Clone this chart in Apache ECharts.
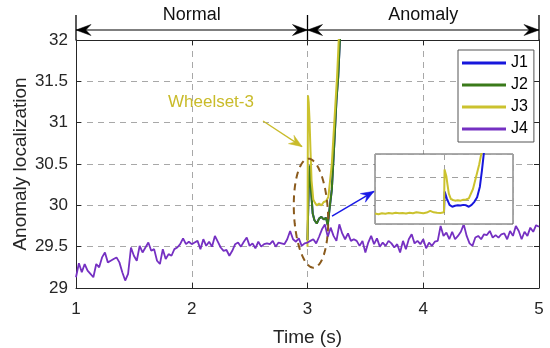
<!DOCTYPE html>
<html><head><meta charset="utf-8">
<script src="https://cdn.jsdelivr.net/npm/echarts@6/dist/echarts.min.js"></script>
<style>html,body{margin:0;padding:0;background:#fff}#c{width:550px;height:348px}</style>
</head><body><div id="c"></div>
<script>
// ---------- data ----------
const seriesNames = ['J1', 'J2', 'J3', 'J4'];
const xTickValues = [1, 2, 3, 4, 5];
const yTickValues = [29, 29.5, 30, 30.5, 31, 31.5, 32];
// J4: sampled every 0.025 s from 1.0 s to 5.0 s
const j4Start = 1.0, j4Step = 0.025;
const j4Values = [
 29.13,29.30,29.19,29.29,29.21,29.17,29.13,29.29,29.25,29.37,
 29.43,29.31,29.33,29.35,29.37,29.31,29.19,29.09,29.17,29.49,
 29.39,29.33,29.51,29.43,29.49,29.55,29.45,29.47,29.33,29.29,
 29.47,29.35,29.41,29.39,29.47,29.49,29.53,29.60,29.53,29.56,
 29.53,29.55,29.57,29.47,29.59,29.51,29.56,29.50,29.63,29.56,
 29.49,29.45,29.46,29.39,29.45,29.53,29.55,29.50,29.56,29.61,
 29.51,29.54,29.48,29.56,29.50,29.53,29.54,29.53,29.57,29.50,
 29.55,29.54,29.53,29.59,29.69,29.59,29.56,29.60,29.51,29.54,
 29.55,29.57,29.59,29.54,29.62,29.71,29.77,29.62,29.73,29.63,
 29.57,29.77,29.66,29.59,29.66,29.57,29.59,29.57,29.51,29.57,
 29.43,29.55,29.63,29.53,29.60,29.50,29.55,29.51,29.57,29.54,
 29.49,29.53,29.43,29.57,29.47,29.59,29.65,29.54,29.57,29.53,
 29.59,29.48,29.55,29.51,29.56,29.57,29.75,29.63,29.67,29.59,
 29.68,29.59,29.63,29.68,29.77,29.63,29.54,29.51,29.61,29.63,
 29.59,29.65,29.64,29.69,29.61,29.64,29.61,29.65,29.66,29.59,
 29.69,29.63,29.75,29.69,29.59,29.68,29.63,29.73,29.68,29.76,
 29.74
];
// J2 (dark green) after the anomaly onset
const j2Time   = [3.0, 3.01, 3.02, 3.03, 3.045, 3.06, 3.08, 3.10, 3.12, 3.14, 3.16, 3.175, 3.19, 3.21, 3.23, 3.25, 3.265, 3.28, 3.30];
const j2Values = [29.58, 30.2, 30.48, 30.2, 29.9, 29.82, 29.78, 29.84, 29.86, 29.83, 29.85, 29.76, 29.95, 30.19, 30.71, 31.27, 31.55, 32.0, 32.5];
// J1 in the main plot lies underneath J2
const j1Time   = j2Time;
const j1Values = j2Values;
// J3 (yellow) after the anomaly onset
const j3Time   = [3.0, 3.004, 3.01, 3.017, 3.025, 3.035, 3.05, 3.065, 3.08, 3.10, 3.12, 3.14, 3.16, 3.18, 3.21, 3.24, 3.255, 3.27, 3.29];
const j3Values = [29.5, 31.33, 31.25, 31.05, 30.7, 30.3, 30.07, 30.03, 30.0, 30.02, 30.0, 30.04, 30.05, 30.1, 30.5, 31.2, 31.55, 32.0, 32.6];
// Inset: J3 before onset (2.5 – 2.975 s, every 0.025 s)
const j3PreTime   = [2.5,2.525,2.55,2.575,2.6,2.625,2.65,2.675,2.7,2.725,2.75,2.775,2.8,2.825,2.85,2.875,2.9,2.925,2.95,2.975];
const j3PreValues = [29.45,29.42,29.46,29.44,29.47,29.45,29.48,29.46,29.47,29.45,29.48,29.46,29.5,29.48,29.46,29.49,29.56,29.5,29.48,29.47];
// Inset: J1 (blue)
const j1InsetTime   = [3.0, 3.005, 3.02, 3.04, 3.06, 3.08, 3.10, 3.12, 3.14, 3.16, 3.18, 3.20, 3.22, 3.24, 3.26, 3.275, 3.29, 3.30];
const j1InsetValues = [29.47, 30.39, 30.1, 29.82, 29.74, 29.78, 29.80, 29.79, 29.82, 29.80, 29.74, 29.82, 29.95, 30.15, 30.6, 31.3, 32.1, 32.6];

// ---------- build ----------
const colors = {J1: '#1717dc', J2: '#3a7a1a', J3: '#cbc22e', J4: '#7530c2'};
const pair = (t, v) => t.map((x, i) => [x, v[i]]);
const j4Data = j4Values.map((v, i) => [+(j4Start + i * j4Step).toFixed(3), v]);
const FONT = '"Liberation Sans", Arial, Helvetica, sans-serif';
const axisCol = '#262626';

const chart = echarts.init(document.getElementById('c'), null, {renderer: 'canvas'});
const dashed = {show: true, lineStyle: {color: '#a8a8a8', type: [6, 5], width: 1}};
const option = {
  animation: false,
  backgroundColor: '#fff',
  textStyle: {fontFamily: FONT},
  grid: [
    {left: 76, top: 40, width: 463, height: 248, show: false, containLabel: false, outerBoundsMode: 'none'},
    {left: 375, top: 154, width: 138, height: 70, show: true, backgroundColor: '#fff', borderColor: '#555', borderWidth: 1, z: 5, containLabel: false, outerBoundsMode: 'none'}
  ],
  legend: {
    data: seriesNames, orient: 'vertical', left: 458, top: 50,
    backgroundColor: '#fff', borderColor: '#555', borderWidth: 1,
    padding: [5, 6, 5, 4], icon: 'rect', itemWidth: 44, itemHeight: 3, itemGap: 6, itemTextGap: 5,
    textStyle: {fontSize: 16, color: '#000', fontFamily: FONT, lineHeight: 14}
  },
  xAxis: [
    {type: 'value', gridIndex: 0, min: 1, max: 5, interval: 1, position: 'bottom',
     axisLine: {show: true, onZero: false, lineStyle: {color: axisCol, width: 1}},
     axisTick: {show: true, inside: true, length: 5, lineStyle: {color: axisCol}},
     axisLabel: {fontSize: 17, color: axisCol, margin: 13, fontFamily: FONT},
     splitLine: dashed,
     name: 'Time (s)', nameLocation: 'middle', nameGap: 40,
     nameTextStyle: {fontSize: 19, color: axisCol, fontFamily: FONT}},
    {type: 'value', gridIndex: 0, min: 1, max: 5, interval: 1, position: 'top',
     axisLine: {show: true, onZero: false, lineStyle: {color: axisCol, width: 1}},
     axisTick: {show: true, inside: true, length: 5, lineStyle: {color: axisCol}},
     axisLabel: {show: false}, splitLine: {show: false}},
    {type: 'value', gridIndex: 1, min: 2.5, max: 3.5, interval: 0.5, z: 6,
     axisLine: {show: false}, axisTick: {show: false}, axisLabel: {show: false},
     splitLine: {show: true, lineStyle: {color: '#a0a0a0', type: [6, 5], width: 1}}}
  ],
  yAxis: [
    {type: 'value', gridIndex: 0, min: 29, max: 32, interval: 0.5, position: 'left',
     axisLine: {show: true, onZero: false, lineStyle: {color: axisCol, width: 1}},
     axisTick: {show: true, inside: true, length: 5, lineStyle: {color: axisCol}},
     axisLabel: {fontSize: 17, color: axisCol, margin: 8, fontFamily: FONT},
     splitLine: dashed,
     name: 'Anomaly localization', nameLocation: 'middle', nameGap: 46, nameRotate: 90, nameMoveOverlap: false,
     nameTextStyle: {fontSize: 19, color: axisCol, fontFamily: FONT}},
    {type: 'value', gridIndex: 0, min: 29, max: 32, interval: 0.5, position: 'right',
     axisLine: {show: true, onZero: false, lineStyle: {color: axisCol, width: 1}},
     axisTick: {show: true, inside: true, length: 5, lineStyle: {color: axisCol}},
     axisLabel: {show: false}, splitLine: {show: false}},
    {type: 'value', gridIndex: 1, min: 29, max: 32, interval: 1, z: 6,
     axisLine: {show: false}, axisTick: {show: false}, axisLabel: {show: false},
     splitLine: {show: true, lineStyle: {color: '#a0a0a0', type: [6, 5], width: 1}}}
  ],
  series: [
    {name: 'J1', type: 'line', xAxisIndex: 0, yAxisIndex: 0, data: pair(j1Time, j1Values), showSymbol: false, lineStyle: {color: colors.J1, width: 2}, itemStyle: {color: colors.J1}, clip: true},
    {name: 'J2', type: 'line', xAxisIndex: 0, yAxisIndex: 0, data: pair(j2Time, j2Values), showSymbol: false, lineStyle: {color: colors.J2, width: 2}, itemStyle: {color: colors.J2}, clip: true},
    {name: 'J3', type: 'line', xAxisIndex: 0, yAxisIndex: 0, data: pair(j3Time, j3Values), showSymbol: false, lineStyle: {color: colors.J3, width: 2}, itemStyle: {color: colors.J3}, clip: true},
    {name: 'J4', type: 'line', xAxisIndex: 0, yAxisIndex: 0, data: j4Data, showSymbol: false, lineStyle: {color: colors.J4, width: 1.8}, itemStyle: {color: colors.J4}, clip: true},
    {name: 'J1', type: 'line', xAxisIndex: 2, yAxisIndex: 2, data: pair(j1InsetTime, j1InsetValues), showSymbol: false, lineStyle: {color: colors.J1, width: 2}, itemStyle: {color: colors.J1}, clip: true, z: 7},
    {name: 'J3', type: 'line', xAxisIndex: 2, yAxisIndex: 2, data: pair(j3PreTime.concat(j3Time), j3PreValues.concat(j3Values)), showSymbol: false, lineStyle: {color: colors.J3, width: 2}, itemStyle: {color: colors.J3}, clip: true, z: 7}
  ]
};
chart.setOption(option);

// ---------- annotations ----------
const P = (t, v) => chart.convertToPixel({xAxisIndex: 0, yAxisIndex: 0}, [t, v]);
function head(tip, from, len, half, color) {
  const dx = tip[0] - from[0], dy = tip[1] - from[1];
  const L = Math.hypot(dx, dy); const ux = dx / L, uy = dy / L;
  const nx = -uy, ny = ux;
  const bx = tip[0] - ux * len, by = tip[1] - uy * len;
  const mx = tip[0] - ux * len * 0.65, my = tip[1] - uy * len * 0.65;
  return {type: 'polygon', z: 20, shape: {points: [tip, [bx + nx * half, by + ny * half], [mx, my], [bx - nx * half, by - ny * half]]}, style: {fill: color, stroke: color, lineWidth: 0.5}};
}
function seg(a, b, color, w) {
  return {type: 'line', z: 20, shape: {x1: a[0], y1: a[1], x2: b[0], y2: b[1]}, style: {stroke: color, lineWidth: w}};
}
function txt(p, s, size, color) {
  return {type: 'text', z: 20, x: p[0], y: p[1], style: {text: s, font: size + 'px ' + FONT, fill: color, align: 'center', verticalAlign: 'middle', textAlign: 'center', textVerticalAlign: 'middle'}};
}
const g = [];
const xl = P(1, 32)[0], xm = P(3, 32)[0], xr = P(5, 32)[0], topY = P(1, 32)[1];
const ay = topY - 10;
[xl, xm, xr].forEach(x => g.push(seg([x, 15], [x, topY], '#000', 1.3)));
g.push(seg([xl, ay], [xm, ay], '#000', 1.2));
g.push(seg([xm, ay], [xr, ay], '#000', 1.2));
g.push(head([xl, ay], [xm, ay], 15, 5.5, '#000'));
g.push(head([xm, ay], [xl, ay], 15, 5.5, '#000'));
g.push(head([xm, ay], [xr, ay], 15, 5.5, '#000'));
g.push(head([xr, ay], [xm, ay], 15, 5.5, '#000'));
g.push(txt([(xl + xm) / 2, 15], 'Normal', 18, '#111'));
g.push(txt([(xm + xr) / 2, 15], 'Anomaly', 18, '#111'));

// Wheelset-3 label and arrow
const yel = '#c9bb2a';
g.push(txt(P(2.166, 31.25), 'Wheelset-3', 17, yel));
const wa = P(2.616, 31.02), wb = P(2.953, 30.71);
g.push(seg(wa, wb, yel, 1.3));
g.push(head(wb, wa, 13, 5, yel));

// dashed ellipse
const c0 = P(3.03, 29.905), rxp = P(3.03 + 0.147, 29.905)[0] - c0[0], ryp = c0[1] - P(3.03, 29.905 + 0.66)[1];
const rot = 0.05, pts = [];
for (let k = 0; k <= 72; k++) {
  const a = k / 72 * Math.PI * 2;
  const ex = rxp * Math.cos(a), ey = ryp * Math.sin(a);
  pts.push([c0[0] + ex * Math.cos(rot) + ey * Math.sin(rot), c0[1] - ex * Math.sin(rot) + ey * Math.cos(rot)]);
}
g.push({type: 'polyline', z: 19, shape: {points: pts}, style: {stroke: '#8a5a1c', lineWidth: 2, lineDash: [7, 5], fill: null}});

// blue arrow to inset
const ba = P(3.212, 29.869), bb = P(3.575, 30.17);
g.push(seg(ba, bb, '#1a1ae6', 1.5));
g.push(head(bb, ba, 13, 5, '#1a1ae6'));

chart.setOption({graphic: g});
</script></body></html>
